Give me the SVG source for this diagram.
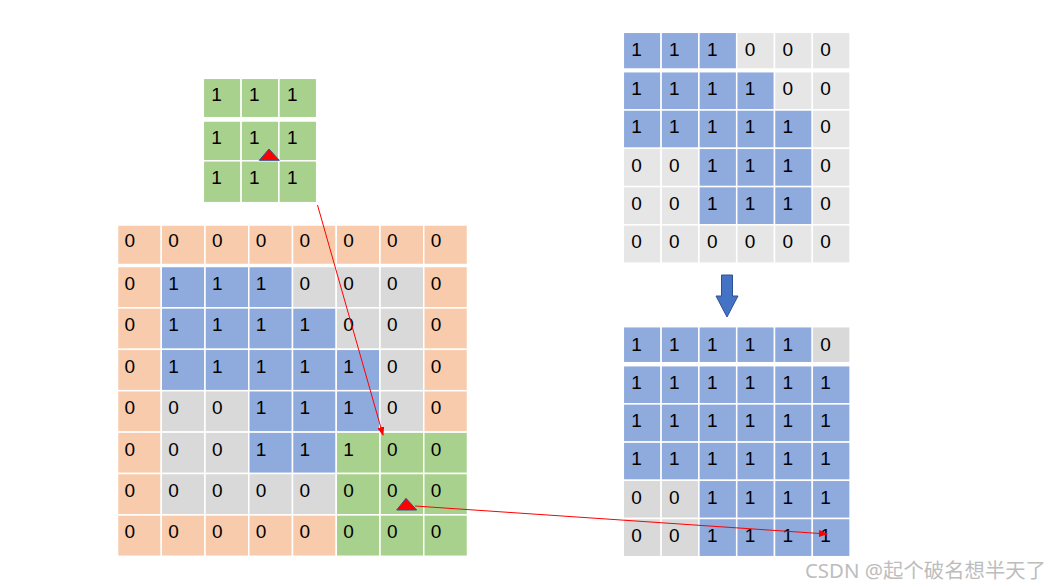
<svg xmlns="http://www.w3.org/2000/svg" width="1052" height="587" viewBox="0 0 1052 587">
<style>
rect.c{stroke:#fff;stroke-width:1.5}
.o{fill:#F8CBAD}.b{fill:#8FAADC}.g{fill:#D9D9D9}.l{fill:#E7E6E6}.n{fill:#A9D18E}
text.v{font-family:"Liberation Sans",Arial,sans-serif;font-size:19px;fill:#000}
.tri{fill:#FF0000;stroke:#2F528F;stroke-width:1}
.con{stroke:#FF0000;stroke-width:1;fill:none}
.wm{font-family:"Noto Sans","Noto Sans CJK SC",sans-serif;font-size:20px;fill:#BDBDBD}
</style>
<defs>
<marker id="ah" markerWidth="9" markerHeight="7" refX="8" refY="3.5" orient="auto" markerUnits="userSpaceOnUse">
<path d="M0,0 L9,3.5 L0,7 Z" fill="#FF0000"/>
</marker>
</defs>
<rect width="1052" height="587" fill="#fff"/>

<g id="kernel">
<rect class="c n" x="203.3" y="78.3" width="37.8" height="39.4"/><rect class="c n" x="241.1" y="78.3" width="37.8" height="39.4"/><rect class="c n" x="278.9" y="78.3" width="37.8" height="39.4"/>
<rect class="c n" x="203.3" y="121" width="37.8" height="39.8"/><rect class="c n" x="241.1" y="121" width="37.8" height="39.8"/><rect class="c n" x="278.9" y="121" width="37.8" height="39.8"/>
<rect class="c n" x="203.3" y="160.8" width="37.8" height="41.9"/><rect class="c n" x="241.1" y="160.8" width="37.8" height="41.9"/><rect class="c n" x="278.9" y="160.8" width="37.8" height="41.9"/>
<text class="v" x="211.3" y="101">1</text><text class="v" x="249.1" y="101">1</text><text class="v" x="286.9" y="101">1</text>
<text class="v" x="211.3" y="143.5">1</text><text class="v" x="249.1" y="143.5">1</text><text class="v" x="286.9" y="143.5">1</text>
<text class="v" x="211.3" y="183.5">1</text><text class="v" x="249.1" y="183.5">1</text><text class="v" x="286.9" y="183.5">1</text>
<polygon class="tri" points="269,149 259.3,160.3 279.3,160.3"/>
</g>

<g id="input-grid">
<rect class="c o" x="117.5" y="225" width="43.75" height="39.5"/><rect class="c o" x="161.25" y="225" width="43.75" height="39.5"/><rect class="c o" x="205" y="225" width="43.75" height="39.5"/><rect class="c o" x="248.75" y="225" width="43.75" height="39.5"/><rect class="c o" x="292.5" y="225" width="43.75" height="39.5"/><rect class="c o" x="336.25" y="225" width="43.75" height="39.5"/><rect class="c o" x="380" y="225" width="43.75" height="39.5"/><rect class="c o" x="423.75" y="225" width="43.75" height="39.5"/>
<rect class="c o" x="117.5" y="266.5" width="43.75" height="41.4"/><rect class="c b" x="161.25" y="266.5" width="43.75" height="41.4"/><rect class="c b" x="205" y="266.5" width="43.75" height="41.4"/><rect class="c b" x="248.75" y="266.5" width="43.75" height="41.4"/><rect class="c g" x="292.5" y="266.5" width="43.75" height="41.4"/><rect class="c g" x="336.25" y="266.5" width="43.75" height="41.4"/><rect class="c g" x="380" y="266.5" width="43.75" height="41.4"/><rect class="c o" x="423.75" y="266.5" width="43.75" height="41.4"/>
<rect class="c o" x="117.5" y="307.9" width="43.75" height="41.4"/><rect class="c b" x="161.25" y="307.9" width="43.75" height="41.4"/><rect class="c b" x="205" y="307.9" width="43.75" height="41.4"/><rect class="c b" x="248.75" y="307.9" width="43.75" height="41.4"/><rect class="c b" x="292.5" y="307.9" width="43.75" height="41.4"/><rect class="c g" x="336.25" y="307.9" width="43.75" height="41.4"/><rect class="c g" x="380" y="307.9" width="43.75" height="41.4"/><rect class="c o" x="423.75" y="307.9" width="43.75" height="41.4"/>
<rect class="c o" x="117.5" y="349.3" width="43.75" height="41.4"/><rect class="c b" x="161.25" y="349.3" width="43.75" height="41.4"/><rect class="c b" x="205" y="349.3" width="43.75" height="41.4"/><rect class="c b" x="248.75" y="349.3" width="43.75" height="41.4"/><rect class="c b" x="292.5" y="349.3" width="43.75" height="41.4"/><rect class="c b" x="336.25" y="349.3" width="43.75" height="41.4"/><rect class="c g" x="380" y="349.3" width="43.75" height="41.4"/><rect class="c o" x="423.75" y="349.3" width="43.75" height="41.4"/>
<rect class="c o" x="117.5" y="390.7" width="43.75" height="41.4"/><rect class="c g" x="161.25" y="390.7" width="43.75" height="41.4"/><rect class="c g" x="205" y="390.7" width="43.75" height="41.4"/><rect class="c b" x="248.75" y="390.7" width="43.75" height="41.4"/><rect class="c b" x="292.5" y="390.7" width="43.75" height="41.4"/><rect class="c b" x="336.25" y="390.7" width="43.75" height="41.4"/><rect class="c g" x="380" y="390.7" width="43.75" height="41.4"/><rect class="c o" x="423.75" y="390.7" width="43.75" height="41.4"/>
<rect class="c o" x="117.5" y="432.1" width="43.75" height="41.4"/><rect class="c g" x="161.25" y="432.1" width="43.75" height="41.4"/><rect class="c g" x="205" y="432.1" width="43.75" height="41.4"/><rect class="c b" x="248.75" y="432.1" width="43.75" height="41.4"/><rect class="c b" x="292.5" y="432.1" width="43.75" height="41.4"/><rect class="c n" x="336.25" y="432.1" width="43.75" height="41.4"/><rect class="c n" x="380" y="432.1" width="43.75" height="41.4"/><rect class="c n" x="423.75" y="432.1" width="43.75" height="41.4"/>
<rect class="c o" x="117.5" y="473.5" width="43.75" height="41.4"/><rect class="c g" x="161.25" y="473.5" width="43.75" height="41.4"/><rect class="c g" x="205" y="473.5" width="43.75" height="41.4"/><rect class="c g" x="248.75" y="473.5" width="43.75" height="41.4"/><rect class="c g" x="292.5" y="473.5" width="43.75" height="41.4"/><rect class="c n" x="336.25" y="473.5" width="43.75" height="41.4"/><rect class="c n" x="380" y="473.5" width="43.75" height="41.4"/><rect class="c n" x="423.75" y="473.5" width="43.75" height="41.4"/>
<rect class="c o" x="117.5" y="514.9" width="43.75" height="41.4"/><rect class="c o" x="161.25" y="514.9" width="43.75" height="41.4"/><rect class="c o" x="205" y="514.9" width="43.75" height="41.4"/><rect class="c o" x="248.75" y="514.9" width="43.75" height="41.4"/><rect class="c o" x="292.5" y="514.9" width="43.75" height="41.4"/><rect class="c n" x="336.25" y="514.9" width="43.75" height="41.4"/><rect class="c n" x="380" y="514.9" width="43.75" height="41.4"/><rect class="c n" x="423.75" y="514.9" width="43.75" height="41.4"/>

<text class="v" x="124.5" y="247">0</text><text class="v" x="168.25" y="247">0</text><text class="v" x="212" y="247">0</text><text class="v" x="255.75" y="247">0</text><text class="v" x="299.5" y="247">0</text><text class="v" x="343.25" y="247">0</text><text class="v" x="387" y="247">0</text><text class="v" x="430.75" y="247">0</text>
<text class="v" x="124.5" y="290">0</text><text class="v" x="168.25" y="290">1</text><text class="v" x="212" y="290">1</text><text class="v" x="255.75" y="290">1</text><text class="v" x="299.5" y="290">0</text><text class="v" x="343.25" y="290">0</text><text class="v" x="387" y="290">0</text><text class="v" x="430.75" y="290">0</text>
<text class="v" x="124.5" y="331.4">0</text><text class="v" x="168.25" y="331.4">1</text><text class="v" x="212" y="331.4">1</text><text class="v" x="255.75" y="331.4">1</text><text class="v" x="299.5" y="331.4">1</text><text class="v" x="343.25" y="331.4">0</text><text class="v" x="387" y="331.4">0</text><text class="v" x="430.75" y="331.4">0</text>
<text class="v" x="124.5" y="372.8">0</text><text class="v" x="168.25" y="372.8">1</text><text class="v" x="212" y="372.8">1</text><text class="v" x="255.75" y="372.8">1</text><text class="v" x="299.5" y="372.8">1</text><text class="v" x="343.25" y="372.8">1</text><text class="v" x="387" y="372.8">0</text><text class="v" x="430.75" y="372.8">0</text>
<text class="v" x="124.5" y="414.2">0</text><text class="v" x="168.25" y="414.2">0</text><text class="v" x="212" y="414.2">0</text><text class="v" x="255.75" y="414.2">1</text><text class="v" x="299.5" y="414.2">1</text><text class="v" x="343.25" y="414.2">1</text><text class="v" x="387" y="414.2">0</text><text class="v" x="430.75" y="414.2">0</text>
<text class="v" x="124.5" y="455.6">0</text><text class="v" x="168.25" y="455.6">0</text><text class="v" x="212" y="455.6">0</text><text class="v" x="255.75" y="455.6">1</text><text class="v" x="299.5" y="455.6">1</text><text class="v" x="343.25" y="455.6">1</text><text class="v" x="387" y="455.6">0</text><text class="v" x="430.75" y="455.6">0</text>
<text class="v" x="124.5" y="497">0</text><text class="v" x="168.25" y="497">0</text><text class="v" x="212" y="497">0</text><text class="v" x="255.75" y="497">0</text><text class="v" x="299.5" y="497">0</text><text class="v" x="343.25" y="497">0</text><text class="v" x="387" y="497">0</text><text class="v" x="430.75" y="497">0</text>
<text class="v" x="124.5" y="538.4">0</text><text class="v" x="168.25" y="538.4">0</text><text class="v" x="212" y="538.4">0</text><text class="v" x="255.75" y="538.4">0</text><text class="v" x="299.5" y="538.4">0</text><text class="v" x="343.25" y="538.4">0</text><text class="v" x="387" y="538.4">0</text><text class="v" x="430.75" y="538.4">0</text>
<polygon class="tri" points="406,498.3 396.7,510 416.7,510"/>
</g>

<g id="before-grid">
<rect class="c b" x="623.3" y="32.3" width="37.8" height="36.7"/><rect class="c b" x="661.1" y="32.3" width="37.8" height="36.7"/><rect class="c b" x="698.9" y="32.3" width="37.8" height="36.7"/><rect class="c l" x="736.7" y="32.3" width="37.8" height="36.7"/><rect class="c l" x="774.5" y="32.3" width="37.8" height="36.7"/><rect class="c l" x="812.3" y="32.3" width="37.8" height="36.7"/>
<rect class="c b" x="623.3" y="71.7" width="37.8" height="38.3"/><rect class="c b" x="661.1" y="71.7" width="37.8" height="38.3"/><rect class="c b" x="698.9" y="71.7" width="37.8" height="38.3"/><rect class="c b" x="736.7" y="71.7" width="37.8" height="38.3"/><rect class="c l" x="774.5" y="71.7" width="37.8" height="38.3"/><rect class="c l" x="812.3" y="71.7" width="37.8" height="38.3"/>
<rect class="c b" x="623.3" y="110" width="37.8" height="38.3"/><rect class="c b" x="661.1" y="110" width="37.8" height="38.3"/><rect class="c b" x="698.9" y="110" width="37.8" height="38.3"/><rect class="c b" x="736.7" y="110" width="37.8" height="38.3"/><rect class="c b" x="774.5" y="110" width="37.8" height="38.3"/><rect class="c l" x="812.3" y="110" width="37.8" height="38.3"/>
<rect class="c l" x="623.3" y="148.3" width="37.8" height="38.3"/><rect class="c l" x="661.1" y="148.3" width="37.8" height="38.3"/><rect class="c b" x="698.9" y="148.3" width="37.8" height="38.3"/><rect class="c b" x="736.7" y="148.3" width="37.8" height="38.3"/><rect class="c b" x="774.5" y="148.3" width="37.8" height="38.3"/><rect class="c l" x="812.3" y="148.3" width="37.8" height="38.3"/>
<rect class="c l" x="623.3" y="186.6" width="37.8" height="38.3"/><rect class="c l" x="661.1" y="186.6" width="37.8" height="38.3"/><rect class="c b" x="698.9" y="186.6" width="37.8" height="38.3"/><rect class="c b" x="736.7" y="186.6" width="37.8" height="38.3"/><rect class="c b" x="774.5" y="186.6" width="37.8" height="38.3"/><rect class="c l" x="812.3" y="186.6" width="37.8" height="38.3"/>
<rect class="c l" x="623.3" y="224.9" width="37.8" height="38.3"/><rect class="c l" x="661.1" y="224.9" width="37.8" height="38.3"/><rect class="c l" x="698.9" y="224.9" width="37.8" height="38.3"/><rect class="c l" x="736.7" y="224.9" width="37.8" height="38.3"/><rect class="c l" x="774.5" y="224.9" width="37.8" height="38.3"/><rect class="c l" x="812.3" y="224.9" width="37.8" height="38.3"/>
<text class="v" x="631.3" y="55.5">1</text><text class="v" x="669.1" y="55.5">1</text><text class="v" x="706.9" y="55.5">1</text><text class="v" x="744.7" y="55.5">0</text><text class="v" x="782.5" y="55.5">0</text><text class="v" x="820.3" y="55.5">0</text>
<text class="v" x="631.3" y="95">1</text><text class="v" x="669.1" y="95">1</text><text class="v" x="706.9" y="95">1</text><text class="v" x="744.7" y="95">1</text><text class="v" x="782.5" y="95">0</text><text class="v" x="820.3" y="95">0</text>
<text class="v" x="631.3" y="133.3">1</text><text class="v" x="669.1" y="133.3">1</text><text class="v" x="706.9" y="133.3">1</text><text class="v" x="744.7" y="133.3">1</text><text class="v" x="782.5" y="133.3">1</text><text class="v" x="820.3" y="133.3">0</text>
<text class="v" x="631.3" y="171.6">0</text><text class="v" x="669.1" y="171.6">0</text><text class="v" x="706.9" y="171.6">1</text><text class="v" x="744.7" y="171.6">1</text><text class="v" x="782.5" y="171.6">1</text><text class="v" x="820.3" y="171.6">0</text>
<text class="v" x="631.3" y="209.9">0</text><text class="v" x="669.1" y="209.9">0</text><text class="v" x="706.9" y="209.9">1</text><text class="v" x="744.7" y="209.9">1</text><text class="v" x="782.5" y="209.9">1</text><text class="v" x="820.3" y="209.9">0</text>
<text class="v" x="631.3" y="248.2">0</text><text class="v" x="669.1" y="248.2">0</text><text class="v" x="706.9" y="248.2">0</text><text class="v" x="744.7" y="248.2">0</text><text class="v" x="782.5" y="248.2">0</text><text class="v" x="820.3" y="248.2">0</text>
</g>

<g id="down-arrow">
<polygon points="721.5,275 732.5,275 732.5,296 738,296 727,317 716,296 721.5,296" fill="#4472C4" stroke="#2F528F" stroke-width="1"/>
</g>

<g id="after-grid">
<rect class="c b" x="623.3" y="326.7" width="37.8" height="36"/><rect class="c b" x="661.1" y="326.7" width="37.8" height="36"/><rect class="c b" x="698.9" y="326.7" width="37.8" height="36"/><rect class="c b" x="736.7" y="326.7" width="37.8" height="36"/><rect class="c b" x="774.5" y="326.7" width="37.8" height="36"/><rect class="c g" x="812.3" y="326.7" width="37.8" height="36"/>
<rect class="c b" x="623.3" y="365.7" width="37.8" height="38.2"/><rect class="c b" x="661.1" y="365.7" width="37.8" height="38.2"/><rect class="c b" x="698.9" y="365.7" width="37.8" height="38.2"/><rect class="c b" x="736.7" y="365.7" width="37.8" height="38.2"/><rect class="c b" x="774.5" y="365.7" width="37.8" height="38.2"/><rect class="c b" x="812.3" y="365.7" width="37.8" height="38.2"/>
<rect class="c b" x="623.3" y="403.9" width="37.8" height="38.2"/><rect class="c b" x="661.1" y="403.9" width="37.8" height="38.2"/><rect class="c b" x="698.9" y="403.9" width="37.8" height="38.2"/><rect class="c b" x="736.7" y="403.9" width="37.8" height="38.2"/><rect class="c b" x="774.5" y="403.9" width="37.8" height="38.2"/><rect class="c b" x="812.3" y="403.9" width="37.8" height="38.2"/>
<rect class="c b" x="623.3" y="442.1" width="37.8" height="38.2"/><rect class="c b" x="661.1" y="442.1" width="37.8" height="38.2"/><rect class="c b" x="698.9" y="442.1" width="37.8" height="38.2"/><rect class="c b" x="736.7" y="442.1" width="37.8" height="38.2"/><rect class="c b" x="774.5" y="442.1" width="37.8" height="38.2"/><rect class="c b" x="812.3" y="442.1" width="37.8" height="38.2"/>
<rect class="c g" x="623.3" y="480.3" width="37.8" height="38.2"/><rect class="c g" x="661.1" y="480.3" width="37.8" height="38.2"/><rect class="c b" x="698.9" y="480.3" width="37.8" height="38.2"/><rect class="c b" x="736.7" y="480.3" width="37.8" height="38.2"/><rect class="c b" x="774.5" y="480.3" width="37.8" height="38.2"/><rect class="c b" x="812.3" y="480.3" width="37.8" height="38.2"/>
<rect class="c g" x="623.3" y="518.5" width="37.8" height="38.2"/><rect class="c g" x="661.1" y="518.5" width="37.8" height="38.2"/><rect class="c b" x="698.9" y="518.5" width="37.8" height="38.2"/><rect class="c b" x="736.7" y="518.5" width="37.8" height="38.2"/><rect class="c b" x="774.5" y="518.5" width="37.8" height="38.2"/><rect class="c b" x="812.3" y="518.5" width="37.8" height="38.2"/>
<text class="v" x="631.3" y="350.5">1</text><text class="v" x="669.1" y="350.5">1</text><text class="v" x="706.9" y="350.5">1</text><text class="v" x="744.7" y="350.5">1</text><text class="v" x="782.5" y="350.5">1</text><text class="v" x="820.3" y="350.5">0</text>
<text class="v" x="631.3" y="389">1</text><text class="v" x="669.1" y="389">1</text><text class="v" x="706.9" y="389">1</text><text class="v" x="744.7" y="389">1</text><text class="v" x="782.5" y="389">1</text><text class="v" x="820.3" y="389">1</text>
<text class="v" x="631.3" y="427.2">1</text><text class="v" x="669.1" y="427.2">1</text><text class="v" x="706.9" y="427.2">1</text><text class="v" x="744.7" y="427.2">1</text><text class="v" x="782.5" y="427.2">1</text><text class="v" x="820.3" y="427.2">1</text>
<text class="v" x="631.3" y="465.4">1</text><text class="v" x="669.1" y="465.4">1</text><text class="v" x="706.9" y="465.4">1</text><text class="v" x="744.7" y="465.4">1</text><text class="v" x="782.5" y="465.4">1</text><text class="v" x="820.3" y="465.4">1</text>
<text class="v" x="631.3" y="503.8">0</text><text class="v" x="669.1" y="503.8">0</text><text class="v" x="706.9" y="503.8">1</text><text class="v" x="744.7" y="503.8">1</text><text class="v" x="782.5" y="503.8">1</text><text class="v" x="820.3" y="503.8">1</text>
<text class="v" x="631.3" y="542">0</text><text class="v" x="669.1" y="542">0</text><text class="v" x="706.9" y="542">1</text><text class="v" x="744.7" y="542">1</text><text class="v" x="782.5" y="542">1</text><text class="v" x="820.3" y="542">1</text>
</g>

<g id="connectors">
<line class="con" x1="317.5" y1="205" x2="383" y2="435" marker-end="url(#ah)"/>
<line class="con" x1="415" y1="506" x2="827" y2="534" marker-end="url(#ah)"/>
</g>

<text class="wm" x="805" y="578" textLength="241" lengthAdjust="spacingAndGlyphs">CSDN @起个破名想半天了</text>
</svg>
